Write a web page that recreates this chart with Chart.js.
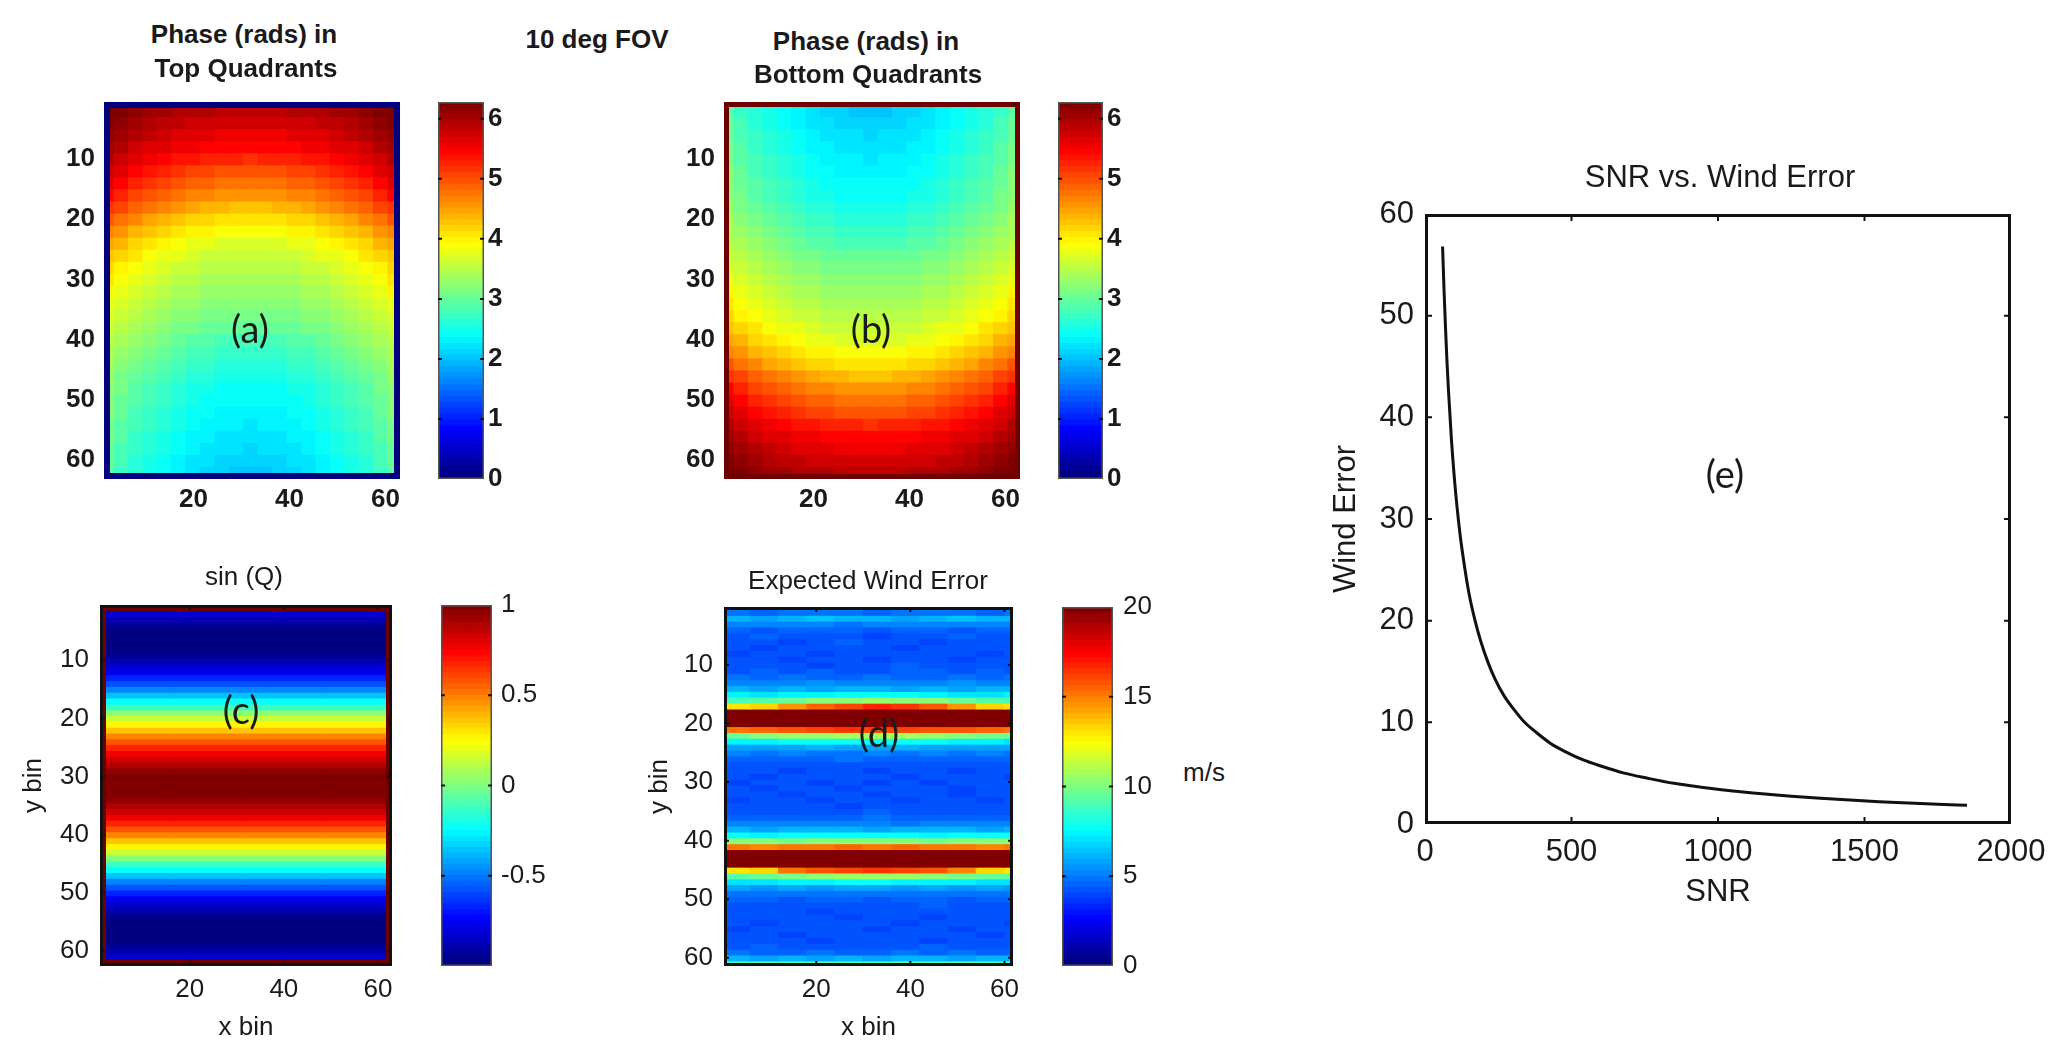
<!DOCTYPE html>
<html>
<head>
<meta charset="utf-8">
<title>10 deg FOV</title>
<script src="https://cdn.jsdelivr.net/npm/chart.js@4"></script>
<style>
    html, body { margin: 0; padding: 0; background: #fff; overflow: hidden; }
    canvas { position: absolute; }
    .txt { position: absolute; white-space: nowrap; transform: translate(-50%, -50%); color: #1a1a1a; font-family: "Liberation Sans", sans-serif; }
</style>
</head>
<body>
<script>
// ========================================
// Data
// ========================================

const xBinTicks = [20, 40, 60];
const yBinTicks = [10, 20, 30, 40, 50, 60];
const phaseTicks = [0, 1, 2, 3, 4, 5, 6];
const sinTicks = [-0.5, 0, 0.5, 1];
const windBarTicks = [0, 5, 10, 15, 20];
const snrTicks = [0, 500, 1000, 1500, 2000];
const windTicks = [0, 10, 20, 30, 40, 50, 60];

// panels (a) and (b): one row per 2 y bins, half a row from centre column out to the edge
const phaseXBins = [2, 5, 8, 11, 14, 17, 20, 23, 26, 29, 32, 35, 38, 41, 44, 47, 50, 53, 56, 59, 62];
const phaseYBins = [2, 4, 6, 8, 10, 12, 14, 16, 18, 20, 22, 24, 26, 28, 30, 32, 34, 36, 38, 40, 42, 44, 46, 48, 50, 52, 54, 56, 58, 60, 62];
const phaseTopHalf = [
    [5.85, 5.85, 5.87, 5.89, 5.92, 5.96, 6.00, 6.06, 6.13, 6.20, 6.28],
    [5.70, 5.71, 5.72, 5.75, 5.78, 5.83, 5.88, 5.95, 6.02, 6.11, 6.20],
    [5.55, 5.56, 5.57, 5.60, 5.64, 5.69, 5.75, 5.82, 5.90, 6.00, 6.10],
    [5.40, 5.41, 5.42, 5.45, 5.50, 5.55, 5.62, 5.69, 5.78, 5.89, 6.00],
    [5.20, 5.21, 5.23, 5.26, 5.31, 5.38, 5.45, 5.54, 5.65, 5.77, 5.90],
    [4.95, 4.96, 4.98, 5.02, 5.08, 5.15, 5.24, 5.34, 5.46, 5.60, 5.75],
    [4.75, 4.76, 4.78, 4.83, 4.89, 4.96, 5.06, 5.17, 5.29, 5.44, 5.60],
    [4.55, 4.56, 4.58, 4.63, 4.69, 4.76, 4.86, 4.97, 5.09, 5.24, 5.40],
    [4.30, 4.31, 4.34, 4.38, 4.44, 4.53, 4.62, 4.74, 4.88, 5.03, 5.20],
    [4.05, 4.06, 4.09, 4.13, 4.19, 4.28, 4.37, 4.49, 4.63, 4.78, 4.95],
    [3.85, 3.86, 3.88, 3.93, 3.99, 4.06, 4.16, 4.27, 4.39, 4.54, 4.70],
    [3.68, 3.69, 3.71, 3.75, 3.81, 3.89, 3.98, 4.08, 4.20, 4.34, 4.50],
    [3.55, 3.56, 3.58, 3.62, 3.67, 3.74, 3.82, 3.92, 4.03, 4.16, 4.30],
    [3.45, 3.46, 3.48, 3.51, 3.56, 3.63, 3.70, 3.79, 3.90, 4.02, 4.15],
    [3.35, 3.36, 3.38, 3.41, 3.46, 3.53, 3.60, 3.69, 3.80, 3.92, 4.05],
    [3.25, 3.26, 3.28, 3.31, 3.36, 3.42, 3.49, 3.58, 3.69, 3.80, 3.93],
    [3.15, 3.16, 3.18, 3.21, 3.25, 3.31, 3.38, 3.47, 3.57, 3.68, 3.80],
    [3.05, 3.06, 3.08, 3.11, 3.15, 3.21, 3.28, 3.37, 3.47, 3.58, 3.70],
    [2.95, 2.96, 2.98, 3.01, 3.05, 3.11, 3.18, 3.27, 3.37, 3.48, 3.60],
    [2.80, 2.81, 2.83, 2.86, 2.91, 2.98, 3.05, 3.14, 3.25, 3.37, 3.50],
    [2.70, 2.71, 2.73, 2.76, 2.82, 2.88, 2.96, 3.05, 3.16, 3.28, 3.42],
    [2.60, 2.61, 2.63, 2.67, 2.72, 2.79, 2.87, 2.97, 3.08, 3.21, 3.35],
    [2.50, 2.51, 2.53, 2.57, 2.62, 2.70, 2.78, 2.88, 3.00, 3.13, 3.28],
    [2.42, 2.43, 2.45, 2.49, 2.55, 2.62, 2.71, 2.81, 2.93, 3.07, 3.22],
    [2.36, 2.37, 2.39, 2.43, 2.49, 2.57, 2.66, 2.76, 2.88, 3.02, 3.18],
    [2.30, 2.31, 2.33, 2.38, 2.43, 2.51, 2.60, 2.71, 2.84, 2.98, 3.14],
    [2.25, 2.26, 2.28, 2.33, 2.39, 2.46, 2.56, 2.67, 2.79, 2.94, 3.10],
    [2.20, 2.21, 2.23, 2.28, 2.34, 2.41, 2.51, 2.62, 2.74, 2.89, 3.05],
    [2.15, 2.16, 2.18, 2.23, 2.29, 2.36, 2.46, 2.57, 2.69, 2.84, 3.00],
    [2.10, 2.11, 2.13, 2.18, 2.24, 2.31, 2.41, 2.52, 2.64, 2.79, 2.95],
    [2.05, 2.06, 2.08, 2.13, 2.19, 2.26, 2.36, 2.47, 2.59, 2.74, 2.90]
];
const phaseBottomHalf = [
    [2.05, 2.06, 2.08, 2.13, 2.19, 2.26, 2.36, 2.47, 2.59, 2.74, 2.90],
    [2.10, 2.11, 2.13, 2.18, 2.24, 2.31, 2.41, 2.52, 2.64, 2.79, 2.95],
    [2.15, 2.16, 2.18, 2.23, 2.29, 2.36, 2.46, 2.57, 2.69, 2.84, 3.00],
    [2.20, 2.21, 2.23, 2.28, 2.34, 2.41, 2.51, 2.62, 2.74, 2.89, 3.05],
    [2.25, 2.26, 2.28, 2.33, 2.39, 2.46, 2.56, 2.67, 2.79, 2.94, 3.10],
    [2.30, 2.31, 2.33, 2.38, 2.43, 2.51, 2.60, 2.71, 2.84, 2.98, 3.14],
    [2.36, 2.37, 2.39, 2.43, 2.49, 2.57, 2.66, 2.76, 2.88, 3.02, 3.18],
    [2.42, 2.43, 2.45, 2.49, 2.55, 2.62, 2.71, 2.81, 2.93, 3.07, 3.22],
    [2.50, 2.51, 2.53, 2.57, 2.62, 2.70, 2.78, 2.88, 3.00, 3.13, 3.28],
    [2.60, 2.61, 2.63, 2.67, 2.72, 2.79, 2.87, 2.97, 3.08, 3.21, 3.35],
    [2.70, 2.71, 2.73, 2.76, 2.82, 2.88, 2.96, 3.05, 3.16, 3.28, 3.42],
    [2.80, 2.81, 2.83, 2.86, 2.91, 2.98, 3.05, 3.14, 3.25, 3.37, 3.50],
    [2.95, 2.96, 2.98, 3.01, 3.05, 3.11, 3.18, 3.27, 3.37, 3.48, 3.60],
    [3.05, 3.06, 3.08, 3.11, 3.15, 3.21, 3.28, 3.37, 3.47, 3.58, 3.70],
    [3.15, 3.16, 3.18, 3.21, 3.25, 3.31, 3.38, 3.47, 3.57, 3.68, 3.80],
    [3.25, 3.26, 3.28, 3.31, 3.36, 3.42, 3.49, 3.58, 3.69, 3.80, 3.93],
    [3.35, 3.36, 3.38, 3.41, 3.46, 3.53, 3.60, 3.69, 3.80, 3.92, 4.05],
    [3.45, 3.46, 3.48, 3.51, 3.56, 3.63, 3.70, 3.79, 3.90, 4.02, 4.15],
    [3.55, 3.56, 3.58, 3.62, 3.67, 3.74, 3.82, 3.92, 4.03, 4.16, 4.30],
    [3.68, 3.69, 3.71, 3.75, 3.81, 3.89, 3.98, 4.08, 4.20, 4.34, 4.50],
    [3.85, 3.86, 3.88, 3.93, 3.99, 4.06, 4.16, 4.27, 4.39, 4.54, 4.70],
    [4.05, 4.06, 4.09, 4.13, 4.19, 4.28, 4.37, 4.49, 4.63, 4.78, 4.95],
    [4.30, 4.31, 4.34, 4.38, 4.44, 4.53, 4.62, 4.74, 4.88, 5.03, 5.20],
    [4.55, 4.56, 4.58, 4.63, 4.69, 4.76, 4.86, 4.97, 5.09, 5.24, 5.40],
    [4.75, 4.76, 4.78, 4.83, 4.89, 4.96, 5.06, 5.17, 5.29, 5.44, 5.60],
    [4.95, 4.96, 4.98, 5.02, 5.08, 5.15, 5.24, 5.34, 5.46, 5.60, 5.75],
    [5.20, 5.21, 5.23, 5.26, 5.31, 5.38, 5.45, 5.54, 5.65, 5.77, 5.90],
    [5.40, 5.41, 5.42, 5.45, 5.50, 5.55, 5.62, 5.69, 5.78, 5.89, 6.00],
    [5.55, 5.56, 5.57, 5.60, 5.64, 5.69, 5.75, 5.82, 5.90, 6.00, 6.10],
    [5.70, 5.71, 5.72, 5.75, 5.78, 5.83, 5.88, 5.95, 6.02, 6.11, 6.20],
    [5.85, 5.85, 5.87, 5.89, 5.92, 5.96, 6.00, 6.06, 6.13, 6.20, 6.28]
];

// panel (c): one value per y bin, same across the width
const sinXBins = [8, 24, 40, 56];
const sinQRows = [
    -0.77, -0.84, -0.90, -0.95, -0.98, -1.00, -1.00, -0.98, -0.95, -0.90,
    -0.84, -0.77, -0.68, -0.59, -0.48, -0.37, -0.25, -0.13, 0.00, 0.13,
    0.25, 0.37, 0.48, 0.59, 0.68, 0.77, 0.84, 0.90, 0.95, 0.98,
    1.00, 1.00, 0.98, 0.95, 0.90, 0.84, 0.77, 0.68, 0.59, 0.48,
    0.37, 0.25, 0.13, 0.00, -0.13, -0.25, -0.37, -0.48, -0.59, -0.68,
    -0.77, -0.84, -0.90, -0.95, -0.98, -1.00, -1.00, -0.98, -0.95, -0.90,
    -0.84, -0.77
];

// panel (d): one row per y bin, 11 blocks across
const windXBins = [3, 9, 15, 21, 27, 33, 39, 45, 51, 57, 63];
const windGrid = [
    [4.8, 4.6, 4.9, 4.7, 4.8, 4.6, 4.9, 4.7, 4.8, 4.6, 4.8],
    [6.2, 5.9, 6.1, 6.3, 6.0, 6.2, 5.9, 6.1, 6.3, 6.0, 6.2],
    [5.2, 5.0, 5.3, 5.1, 4.9, 5.2, 5.0, 5.3, 5.1, 5.2, 5.0],
    [4.5, 4.3, 4.6, 4.4, 4.5, 4.3, 4.6, 4.4, 4.3, 4.5, 4.4],
    [4.2, 4.4, 4.1, 4.3, 4.2, 4.0, 4.3, 4.2, 4.4, 4.1, 4.3],
    [4.1, 4.3, 4.0, 4.2, 4.4, 4.1, 4.3, 4.0, 4.2, 4.3, 4.1],
    [4.3, 4.0, 4.2, 4.1, 4.3, 4.2, 4.0, 4.3, 4.1, 4.2, 4.3],
    [4.0, 4.2, 4.3, 4.0, 4.1, 4.3, 4.2, 4.1, 4.3, 4.0, 4.2],
    [4.2, 4.1, 4.0, 4.3, 4.2, 4.0, 4.1, 4.3, 4.0, 4.2, 4.1],
    [4.3, 4.2, 4.1, 4.0, 4.3, 4.2, 4.4, 4.1, 4.2, 4.3, 4.2],
    [4.3, 4.5, 4.2, 4.4, 4.3, 4.2, 4.4, 4.5, 4.3, 4.4, 4.3],
    [4.7, 4.5, 4.8, 4.6, 4.5, 4.7, 4.6, 4.5, 4.8, 4.6, 4.7],
    [5.3, 5.1, 5.2, 5.4, 5.2, 5.1, 5.3, 5.2, 5.4, 5.1, 5.3],
    [6.0, 5.8, 6.1, 5.9, 6.0, 6.2, 5.9, 6.1, 5.8, 6.0, 6.1],
    [7.2, 7.0, 7.3, 7.4, 7.5, 7.6, 7.5, 7.3, 7.1, 7.0, 7.2],
    [9.0, 9.2, 9.6, 10.0, 10.3, 10.5, 10.3, 10.0, 9.5, 9.2, 9.0],
    [13.0, 13.2, 14.5, 15.5, 16.2, 16.6, 16.4, 15.8, 14.5, 13.2, 13.0],
    [20, 20, 20, 20, 20, 20, 20, 20, 20, 20, 20],
    [20, 20, 20, 20, 20, 20, 20, 20, 20, 20, 20],
    [20, 20, 20, 20, 20, 20, 20, 20, 20, 20, 20],
    [15.0, 15.5, 15.8, 16.0, 16.3, 16.1, 16.2, 15.9, 15.7, 15.4, 15.0],
    [9.5, 10.0, 10.4, 10.6, 10.8, 10.9, 10.7, 10.6, 10.2, 9.9, 9.5],
    [7.2, 7.3, 7.5, 7.6, 7.7, 7.8, 7.6, 7.5, 7.4, 7.2, 7.1],
    [5.9, 5.7, 5.8, 6.0, 5.9, 5.8, 6.1, 5.9, 5.7, 5.8, 5.9],
    [5.0, 4.8, 5.1, 4.9, 4.8, 5.0, 4.9, 5.1, 4.8, 5.0, 4.9],
    [4.5, 4.6, 4.4, 4.5, 4.7, 4.4, 4.6, 4.4, 4.5, 4.6, 4.4],
    [4.3, 4.1, 4.2, 4.3, 4.1, 4.3, 4.2, 4.1, 4.3, 4.2, 4.3],
    [4.1, 4.3, 4.0, 4.2, 4.1, 4.0, 4.3, 4.2, 4.0, 4.1, 4.2],
    [4.2, 4.0, 4.2, 4.1, 4.3, 4.1, 4.0, 4.2, 4.3, 4.1, 4.0],
    [4.0, 4.2, 4.1, 4.0, 4.2, 3.9, 4.2, 4.0, 4.1, 4.2, 4.1],
    [4.1, 4.0, 4.3, 4.1, 4.0, 4.2, 4.1, 4.3, 4.0, 4.1, 4.2],
    [4.2, 4.1, 4.0, 4.2, 4.1, 4.0, 4.2, 4.1, 4.0, 4.3, 4.1],
    [4.0, 4.2, 4.1, 4.0, 4.3, 4.1, 4.0, 4.2, 4.1, 4.0, 4.2],
    [4.2, 4.1, 4.3, 4.1, 4.0, 4.2, 4.3, 4.1, 4.2, 4.1, 4.1],
    [4.3, 4.2, 4.1, 4.3, 4.2, 4.4, 4.1, 4.2, 4.3, 4.2, 4.3],
    [4.6, 4.4, 4.6, 4.5, 4.4, 4.7, 4.5, 4.4, 4.6, 4.5, 4.6],
    [5.1, 5.0, 5.2, 5.0, 5.1, 5.2, 4.9, 5.1, 5.0, 5.2, 5.0],
    [6.1, 5.9, 6.0, 6.2, 6.0, 5.9, 6.1, 6.0, 6.2, 5.9, 6.1],
    [7.6, 7.4, 7.6, 7.5, 7.7, 7.5, 7.6, 7.4, 7.6, 7.5, 7.6],
    [10.0, 10.2, 9.9, 10.1, 10.0, 10.2, 10.1, 9.9, 10.2, 10.0, 10.1],
    [15.0, 14.8, 15.3, 15.0, 15.4, 15.1, 15.5, 15.0, 15.2, 14.9, 15.1],
    [20, 20, 20, 20, 20, 20, 20, 20, 20, 20, 20],
    [20, 20, 20, 20, 20, 20, 20, 20, 20, 20, 20],
    [20, 20, 20, 20, 20, 20, 20, 20, 20, 20, 20],
    [13.0, 13.3, 15.0, 15.8, 16.2, 16.3, 16.2, 15.8, 14.8, 13.3, 13.0],
    [9.2, 9.5, 9.9, 10.2, 10.4, 10.5, 10.4, 10.1, 9.8, 9.5, 9.2],
    [7.0, 7.1, 7.3, 7.4, 7.5, 7.5, 7.4, 7.3, 7.2, 7.0, 7.0],
    [5.7, 5.6, 5.8, 5.6, 5.7, 5.9, 5.6, 5.8, 5.6, 5.7, 5.6],
    [4.9, 4.7, 4.9, 4.8, 4.7, 4.9, 4.8, 4.7, 4.9, 4.8, 4.8],
    [4.4, 4.5, 4.3, 4.5, 4.4, 4.3, 4.5, 4.4, 4.3, 4.5, 4.4],
    [4.2, 4.3, 4.1, 4.2, 4.3, 4.1, 4.2, 4.4, 4.1, 4.3, 4.2],
    [4.3, 4.1, 4.2, 4.0, 4.2, 4.3, 4.1, 4.2, 4.3, 4.1, 4.2],
    [4.1, 4.2, 4.3, 4.1, 4.0, 4.2, 4.3, 4.0, 4.2, 4.1, 4.3],
    [4.2, 4.0, 4.1, 4.3, 4.2, 4.1, 4.0, 4.3, 4.1, 4.2, 4.0],
    [4.0, 4.3, 4.2, 4.1, 4.3, 4.0, 4.2, 4.1, 4.0, 4.3, 4.2],
    [4.2, 4.1, 4.0, 4.2, 4.1, 4.3, 4.1, 4.2, 4.3, 4.0, 4.1],
    [4.3, 4.2, 4.3, 4.0, 4.2, 4.1, 4.3, 4.0, 4.2, 4.1, 4.3],
    [4.2, 4.4, 4.2, 4.3, 4.1, 4.3, 4.2, 4.4, 4.1, 4.3, 4.2],
    [4.7, 4.5, 4.6, 4.7, 4.5, 4.6, 4.8, 4.5, 4.7, 4.6, 4.6],
    [6.1, 5.9, 6.0, 5.8, 6.1, 5.9, 6.0, 6.2, 5.9, 6.0, 6.1],
    [8.8, 9.1, 8.9, 9.2, 9.0, 8.8, 9.1, 8.9, 9.2, 9.0, 8.9]
];

// panel (e)
const snrValues = [60, 65, 70, 75, 80, 90, 100, 110, 120, 135, 150, 170, 190, 215, 240, 270, 300, 340, 380, 430, 480, 540, 600, 680, 760, 850, 950, 1050, 1150, 1250, 1350, 1450, 1550, 1650, 1750, 1850];
const windErrors = [56.8, 52.5, 48.8, 45.5, 42.7, 37.9, 34.1, 31, 28.4, 25.3, 22.7, 20.1, 18, 15.9, 14.2, 12.6, 11.4, 10, 9, 7.9, 7.1, 6.3, 5.7, 5, 4.5, 4, 3.6, 3.25, 2.97, 2.73, 2.53, 2.35, 2.2, 2.07, 1.95, 1.84];

// ========================================
// Helpers
// ========================================

const SANS = '"Liberation Sans", Arial, sans-serif';
const INK = '#1a1a1a';

// MATLAB jet, 64 levels
function jetColor(value, min, max) {
    const t = Math.min(63, Math.floor((value - min) / (max - min) * 64)) / 63;
    const c = k => Math.round(255 * Math.max(0, Math.min(1, 1.5 - Math.abs(4 * t - k))));
    return `rgb(${c(3)},${c(2)},${c(1)})`;
}

function mirrorRows(halfRows) {
    return halfRows.map(row => [...row.slice().reverse(), ...row.slice(1)]);
}

function addLabel(text, x, y, font, rotate) {
    const el = document.createElement('div');
    el.className = 'txt';
    el.textContent = text;
    el.style.left = x + 'px';
    el.style.top = y + 'px';
    el.style.font = font;
    if (rotate) el.style.transform = 'translate(-50%, -50%) rotate(-90deg)';
    document.body.appendChild(el);
}

function addCanvas(box, m) {
    const canvas = document.createElement('canvas');
    canvas.width = box.r - box.l + m.left + m.right;
    canvas.height = box.b - box.t + m.top + m.bottom;
    canvas.style.left = (box.l - m.left) + 'px';
    canvas.style.top = (box.t - m.top) + 'px';
    document.body.appendChild(canvas);
    return canvas;
}

// Frame strokes (outermost first) and inward MATLAB style ticks
function framePlugin(strokes, tickLen, sides) {
    return {
        id: 'frame',
        afterDraw(chart) {
            const { ctx, chartArea: a, scales } = chart;
            ctx.save();
            let inset = 0;
            strokes.forEach(s => {
                ctx.strokeStyle = s.color;
                ctx.lineWidth = s.width;
                const o = inset + s.width / 2;
                ctx.strokeRect(a.left + o, a.top + o, a.right - a.left - 2 * o, a.bottom - a.top - 2 * o);
                inset += s.width;
            });
            ctx.strokeStyle = '#111';
            ctx.lineWidth = 2;
            ctx.beginPath();
            if (tickLen) {
                scales.y.ticks.forEach(t => {
                    if (t.value === scales.y.min || t.value === scales.y.max) return;
                    const y = scales.y.getPixelForValue(t.value);
                    ctx.moveTo(a.left, y); ctx.lineTo(a.left + tickLen, y);
                    ctx.moveTo(a.right, y); ctx.lineTo(a.right - tickLen, y);
                });
                if (sides === 'all') {
                    scales.x.ticks.forEach(t => {
                        if (t.value === scales.x.min || t.value === scales.x.max) return;
                        const x = scales.x.getPixelForValue(t.value);
                        ctx.moveTo(x, a.top); ctx.lineTo(x, a.top + tickLen);
                        ctx.moveTo(x, a.bottom); ctx.lineTo(x, a.bottom - tickLen);
                    });
                }
            }
            ctx.stroke();
            ctx.restore();
        }
    };
}

function axis(min, max, tickValues, font, padding, extra) {
    return Object.assign({
        type: 'linear',
        min: min,
        max: max,
        offset: false,
        grid: { display: false, drawTicks: false },
        border: { display: false },
        afterBuildTicks: scale => { scale.ticks = tickValues.map(value => ({ value })); },
        ticks: { font: font, color: INK, padding: padding, autoSkip: false, maxRotation: 0, callback: v => String(v) }
    }, extra);
}

function cellDatasets(xs, ys, grid, min, max) {
    const half = (ys[1] - ys[0]) / 2;
    return ys.map((y, j) => ({
        data: xs.map((x, i) => ({ x: x, y: [y - half, y + half] })),
        backgroundColor: grid[j].map(v => jetColor(v, min, max)),
        borderWidth: 0,
        inflateAmount: 0.6,
        grouped: false,
        barPercentage: 1,
        categoryPercentage: 1
    }));
}

const basePlugins = { legend: { display: false }, tooltip: { enabled: false } };

// Heatmap panel: every cell is a floating bar on the chart's own scales
function addHeatmap(c) {
    const m = { left: c.marginLeft, right: 40, top: 40, bottom: c.marginBottom };
    const xTitle = c.xTitle ? { display: true, text: c.xTitle, font: c.titleFont, color: INK, padding: 0 } : undefined;
    const yTitle = c.yTitle ? { display: true, text: c.yTitle, font: c.titleFont, color: INK, padding: 0 } : undefined;
    new Chart(addCanvas(c.box, m), {
        type: 'bar',
        data: { datasets: cellDatasets(c.xs, c.ys, c.grid, c.range[0], c.range[1]) },
        options: {
            responsive: false,
            animation: false,
            layout: { padding: { top: m.top, right: m.right } },
            plugins: basePlugins,
            scales: {
                x: axis(c.xRange[0], c.xRange[1], xBinTicks, c.font, c.xPad, {
                    title: xTitle,
                    afterFit: s => { s.height = m.bottom; }
                }),
                y: axis(c.yRange[0], c.yRange[1], yBinTicks, c.font, c.yPad, {
                    reverse: true,
                    title: yTitle,
                    afterFit: s => { s.width = m.left; }
                })
            }
        },
        plugins: [framePlugin(c.frame, c.tickLen, 'all')]
    });
}

// Colour bar: 64 levels of the same map on a right hand value axis
function addColorBar(c) {
    const m = { left: 10, right: 60, top: 40, bottom: 40 };
    const step = (c.range[1] - c.range[0]) / 64;
    const levels = Array.from({ length: 64 }, (_, i) => c.range[0] + step * (i + 0.5));
    new Chart(addCanvas(c.box, m), {
        type: 'bar',
        data: { datasets: cellDatasets([0, 1], levels, levels.map(v => [v, v]), c.range[0], c.range[1]) },
        options: {
            responsive: false,
            animation: false,
            layout: { padding: { top: m.top, left: m.left, bottom: m.bottom } },
            plugins: basePlugins,
            scales: {
                x: { type: 'linear', min: -0.5, max: 1.5, display: false, offset: false },
                y: axis(c.range[0], c.range[1], c.ticks, c.font, c.pad, {
                    position: 'right',
                    afterFit: s => { s.width = m.right; }
                })
            }
        },
        plugins: [framePlugin([{ color: '#555', width: 1.5 }], 4)]
    });
}

// ========================================
// Panels
// ========================================

const boldFont = { family: SANS, size: 26, weight: 'bold' };
const plainFont = { family: SANS, size: 26 };
const navyFrame = [{ color: '#00007f', width: 6 }];
const redFrame = [{ color: '#6d0000', width: 5 }];

const phaseTop = mirrorRows(phaseTopHalf);
const phaseBottom = mirrorRows(phaseBottomHalf);

addHeatmap({
    box: { l: 104, t: 102, r: 400, b: 479 }, xs: phaseXBins, ys: phaseYBins, grid: phaseTop, range: [0, 6.28],
    xRange: [1.4, 63], yRange: [0.6, 63.1], font: boldFont, xPad: 5, yPad: 9,
    marginLeft: 60, marginBottom: 60, frame: navyFrame, tickLen: 0
});
addHeatmap({
    box: { l: 724, t: 102, r: 1020, b: 479 }, xs: phaseXBins, ys: phaseYBins, grid: phaseBottom, range: [0, 6.28],
    xRange: [1.4, 63], yRange: [0.6, 63.1], font: boldFont, xPad: 5, yPad: 9,
    marginLeft: 60, marginBottom: 60, frame: redFrame, tickLen: 0
});
addHeatmap({
    box: { l: 100, t: 605, r: 392, b: 966 }, xs: sinXBins, ys: sinQRows.map((_, i) => i + 1),
    grid: sinQRows.map(v => sinXBins.map(() => v)), range: [-1, 1],
    xRange: [0.9, 63], yRange: [0.5, 62.6], font: plainFont, titleFont: plainFont, xPad: 8, yPad: 11,
    marginLeft: 82, marginBottom: 77, xTitle: 'x bin', yTitle: 'y bin',
    frame: [{ color: '#111', width: 3 }, { color: '#6d0000', width: 3 }], tickLen: 5
});
addHeatmap({
    box: { l: 724, t: 607, r: 1013, b: 966 }, xs: windXBins, ys: windGrid.map((_, i) => i + 1),
    grid: windGrid, range: [0, 20],
    xRange: [0.4, 61.8], yRange: [0.1, 61.4], font: plainFont, titleFont: plainFont, xPad: 8, yPad: 11,
    marginLeft: 80, marginBottom: 77, xTitle: 'x bin', yTitle: 'y bin',
    frame: [{ color: '#111', width: 3 }], tickLen: 5
});

addColorBar({ box: { l: 438, t: 102, r: 484, b: 479 }, range: [0, 6.28], ticks: phaseTicks, font: boldFont, pad: 4 });
addColorBar({ box: { l: 1058, t: 102, r: 1103, b: 479 }, range: [0, 6.28], ticks: phaseTicks, font: boldFont, pad: 4 });
addColorBar({ box: { l: 441, t: 605, r: 492, b: 966 }, range: [-1, 1], ticks: sinTicks, font: plainFont, pad: 9 });
addColorBar({ box: { l: 1062, t: 607, r: 1113, b: 966 }, range: [0, 20], ticks: windBarTicks, font: plainFont, pad: 10 });

// Panel (e)
const errBox = { l: 1425, t: 214, r: 2011, b: 824 };
const errMargin = { left: 97, right: 50, top: 40, bottom: 87 };
const errFont = { family: SANS, size: 31 };
new Chart(addCanvas(errBox, errMargin), {
    type: 'scatter',
    data: {
        datasets: [{
            data: snrValues.map((x, i) => ({ x: x, y: windErrors[i] })),
            showLine: true,
            borderColor: '#111',
            borderWidth: 3,
            pointRadius: 0,
            cubicInterpolationMode: 'monotone'
        }]
    },
    options: {
        responsive: false,
        animation: false,
        layout: { padding: { top: errMargin.top, right: errMargin.right } },
        plugins: basePlugins,
        scales: {
            x: axis(0, 2000, snrTicks, errFont, 10, {
                title: { display: true, text: 'SNR', font: errFont, color: INK, padding: 0 },
                afterFit: s => { s.height = errMargin.bottom; }
            }),
            y: axis(0, 60, windTicks, errFont, 11, {
                title: { display: true, text: 'Wind Error', font: errFont, color: INK, padding: 0 },
                afterFit: s => { s.width = errMargin.left; }
            })
        }
    },
    plugins: [framePlugin([{ color: '#111', width: 3 }], 7, 'all')]
});

// ========================================
// Titles and panel letters
// ========================================

const boldCss = `bold 26px ${SANS}`;
const plainCss = `26px ${SANS}`;
const letterCss = '38px Lato, sans-serif';

addLabel('Phase (rads) in', 244, 34, boldCss);
addLabel('Top Quadrants', 246, 68, boldCss);
addLabel('10 deg FOV', 597, 39, boldCss);
addLabel('Phase (rads) in', 866, 41, boldCss);
addLabel('Bottom Quadrants', 868, 74, boldCss);
addLabel('sin (Q)', 244, 576, plainCss);
addLabel('Expected Wind Error', 868, 580, plainCss);
addLabel('m/s', 1204, 772, plainCss);
addLabel('SNR vs. Wind Error', 1720, 177, `31px ${SANS}`);
addLabel('(a)', 250, 328, letterCss);
addLabel('(b)', 871, 328, letterCss);
addLabel('(c)', 241, 709, letterCss);
addLabel('(d)', 879, 732, letterCss);
addLabel('(e)', 1725, 473, letterCss);
</script>
</body>
</html>
